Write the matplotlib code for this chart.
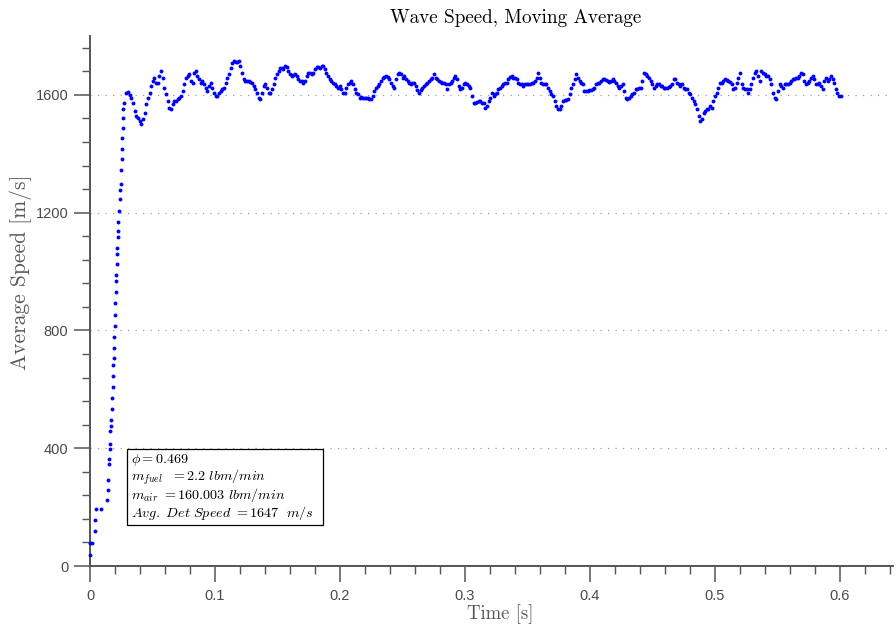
import numpy as np
import matplotlib
matplotlib.use("Agg")
import matplotlib.pyplot as plt
import matplotlib.patches as patches

plt.rcParams['mathtext.fontset'] = 'cm'

# ---------- data: moving average of the detonation wave speed ----------
# start-up ramp (the averaging window filling up)
ramp_time = [0.0, 0.0, 0.0019, 0.0040, 0.0043, 0.0045, 0.0090, 0.0139, 0.0140, 0.0141,
             0.0150, 0.0151, 0.0157, 0.0160, 0.0163, 0.0165, 0.0168, 0.0176, 0.0179, 0.0181,
             0.0184, 0.0187, 0.0190, 0.0192, 0.0195, 0.0197, 0.0200, 0.0203, 0.0205, 0.0208,
             0.0211, 0.0213, 0.0216, 0.0219, 0.0221, 0.0224, 0.0227, 0.0232, 0.0237, 0.0243,
             0.0245, 0.0248, 0.0253, 0.0256, 0.0259, 0.0261, 0.0264, 0.0267, 0.0275]
ramp_speed = [37, 77, 77, 119, 156, 192, 192, 224, 258, 292,
              346, 362, 398, 416, 457, 476, 497, 534, 571, 608,
              645, 684, 708, 740, 777, 815, 854, 893, 931, 969,
              989, 1024, 1061, 1081, 1117, 1138, 1168, 1207, 1246, 1278,
              1299, 1346, 1382, 1416, 1453, 1489, 1521, 1551, 1573]

# steady running, sampled every dt seconds from t_start
t_start = 0.0291
dt = 0.001323

speed_a = [1605, 1610, 1600, 1591, 1574, 1546, 1529, 1520, 1512, 1500, 1517, 1540, 1568, 1591,
           1608, 1630, 1647, 1659, 1642, 1642, 1664, 1681, 1659, 1625, 1602, 1580, 1557, 1551,
           1568, 1580, 1580, 1585, 1591, 1597, 1614, 1636, 1659, 1664, 1670, 1647, 1642, 1676,
           1681, 1664, 1653, 1642, 1647, 1636, 1625, 1614, 1630, 1642, 1625, 1608, 1597, 1597,
           1608, 1614, 1619, 1625, 1642, 1659, 1670, 1693, 1710, 1715, 1713, 1713, 1715, 1698,
           1676, 1653, 1647, 1647, 1647, 1645, 1642, 1630, 1619, 1608, 1591, 1585, 1608, 1630]
speed_b = [1636, 1625, 1608, 1608, 1619, 1636, 1659, 1670, 1681, 1693, 1693, 1687, 1698, 1695,
           1681, 1670, 1664, 1667, 1670, 1664, 1653, 1647, 1647, 1642, 1647, 1664, 1676, 1676,
           1672, 1676, 1687, 1695, 1695, 1693, 1698, 1698, 1687, 1676, 1664, 1653, 1647, 1642,
           1636, 1630, 1625, 1630, 1619, 1605, 1608, 1625, 1636, 1642, 1647, 1636, 1619, 1608,
           1602, 1591, 1593, 1591, 1589, 1589, 1589, 1585, 1585, 1597, 1614, 1625, 1630, 1636,
           1647, 1659, 1661, 1664, 1661, 1653, 1642, 1630, 1625, 1653, 1670, 1676, 1670, 1659,
           1664, 1653, 1647, 1642, 1636]
speed_c = [1642, 1642, 1630, 1616, 1608, 1616, 1625, 1630, 1636, 1642, 1647, 1653, 1659, 1670,
           1659, 1653, 1647, 1645, 1642, 1642, 1636, 1619, 1636, 1642, 1647, 1659, 1664, 1653,
           1630, 1619, 1625, 1636, 1642, 1636, 1630, 1625, 1597, 1574, 1571, 1577, 1580, 1580,
           1574, 1571, 1557, 1563, 1580, 1591, 1608, 1597, 1602, 1608, 1619, 1625, 1630, 1636,
           1642, 1642, 1653, 1661, 1664, 1659, 1659, 1653, 1642, 1636, 1636, 1630, 1636, 1636,
           1636, 1638, 1642, 1642, 1647, 1659, 1676, 1659, 1642, 1636, 1636, 1636, 1625, 1614,
           1602, 1597, 1580, 1563, 1551]
speed_d = [1551, 1563, 1580, 1582, 1582, 1585, 1602, 1625, 1636, 1653, 1670, 1659, 1647, 1642,
           1636, 1614, 1614, 1614, 1616, 1616, 1619, 1625, 1636, 1642, 1642, 1647, 1653, 1653,
           1650, 1647, 1645, 1647, 1653, 1647, 1642, 1630, 1625, 1630, 1636, 1614, 1591, 1585,
           1591, 1597, 1602, 1608, 1619, 1619, 1625, 1625, 1647, 1676, 1670, 1664, 1659, 1647,
           1636, 1625, 1630, 1636, 1636, 1630, 1630, 1625, 1625, 1625, 1627, 1630, 1636, 1653,
           1653, 1642, 1636, 1630, 1636, 1625, 1619, 1619, 1608, 1602, 1591, 1580, 1568, 1551,
           1529, 1512, 1517, 1540, 1546]
speed_e = [1551, 1551, 1563, 1557, 1580, 1597, 1608, 1625, 1642, 1642, 1647, 1653, 1650, 1647,
           1645, 1636, 1619, 1625, 1642, 1659, 1676, 1636, 1625, 1619, 1619, 1608, 1619, 1636,
           1659, 1676, 1681, 1664, 1647, 1681, 1676, 1670, 1664, 1664, 1653, 1636, 1608, 1591,
           1585, 1614, 1636, 1630, 1625, 1636, 1636, 1638, 1642, 1647, 1653, 1653, 1659, 1659,
           1664, 1676, 1670, 1647, 1636, 1642, 1647, 1659, 1664, 1653, 1636, 1636, 1642, 1630,
           1619, 1647, 1659, 1647, 1653, 1664, 1653, 1642, 1619, 1608, 1597, 1597]

x_ticks = [0, 0.1, 0.2, 0.3, 0.4, 0.5, 0.6]
x_tick_labels = ['0', '0.1', '0.2', '0.3', '0.4', '0.5', '0.6']
y_ticks = [0, 400, 800, 1200, 1600]

info_lines = [r'$\phi=0.469$',
              r'$m_{fuel}\ \ =2.2\ lbm/min$',
              r'$m_{air}\ =160.003\ lbm/min$',
              r'$Avg.\ Det\ Speed\ =1647\ \ m/s$']

steady = np.array(speed_a + speed_b + speed_c + speed_d + speed_e, dtype=float)
steady_time = t_start + dt * np.arange(len(steady))
time = np.concatenate([ramp_time, steady_time])
speed = np.concatenate([ramp_speed, steady])

# ---------- figure ----------
axis_grey = '#555555'
serif = 'cmr10'

fig = plt.figure(figsize=(8.96, 6.29), dpi=100)
ax = fig.add_axes([90/896, 63/629, 803/896, 530/629])

ax.plot(time, speed, 'o', ms=2.8, color='b', mec='none', clip_on=False, zorder=3)

ax.set_xlim(0, 0.6424)
ax.set_ylim(0, 1800)
ax.set_xticks(x_ticks)
ax.set_xticklabels(x_tick_labels)
ax.set_xticks(np.arange(0, 0.641, 0.02), minor=True)
ax.set_yticks(y_ticks)
ax.set_yticks(np.arange(0, 1800, 80), minor=True)

for side in ('top', 'right'):
    ax.spines[side].set_visible(False)
for side in ('left', 'bottom'):
    ax.spines[side].set_color(axis_grey)
    ax.spines[side].set_linewidth(1.4)

ax.tick_params(which='major', direction='out', length=11.5, width=1.1, color=axis_grey,
               labelcolor='#4a4a4a', labelsize=10.5)
ax.tick_params(which='minor', direction='out', length=5.8, width=1.0, color=axis_grey)
ax.tick_params(axis='x', which='major', pad=5)
ax.tick_params(axis='y', which='major', pad=4)
for lbl in ax.get_xticklabels() + ax.get_yticklabels():
    lbl.set_fontfamily('Liberation Sans')

ax.yaxis.grid(True, which='major', linestyle=(0, (1, 5)), color='#9a9a9a', linewidth=0.9)
ax.set_axisbelow(True)

ax.set_xlabel('Time [s]', fontfamily=serif, fontsize=13.5, color='#5a5a5a')
ax.set_ylabel('Average Speed [m/s]', fontfamily=serif, fontsize=15.5, color='#5a5a5a')
ax.xaxis.set_label_coords(0.511, -0.072)
ax.yaxis.set_label_coords(-0.072, 0.555)

fig.text(516/896, 1 - 18/629, 'Wave Speed, Moving Average', fontfamily=serif,
         fontsize=13.8, ha='center', va='center', color='black')

# info box
box = patches.Rectangle((0.0461, 0.0774), 0.2441, 0.1434, transform=ax.transAxes,
                        facecolor='white', edgecolor='black', linewidth=0.9, zorder=4)
ax.add_patch(box)
for i, line in enumerate(info_lines):
    ax.text(0.051, 0.2 - i * 0.0333, line, transform=ax.transAxes, fontsize=10.2,
            ha='left', va='center', zorder=5)

fig.savefig('out.png', dpi=100)
